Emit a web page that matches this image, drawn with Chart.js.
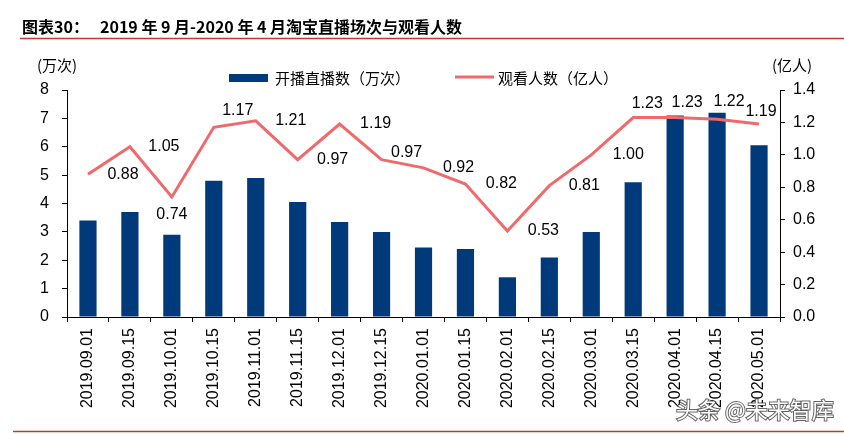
<!DOCTYPE html>
<html>
<head>
<meta charset="utf-8">
<script src="https://cdn.jsdelivr.net/npm/chart.js@4/dist/chart.umd.min.js"></script>
<style>
  html, body { margin: 0; padding: 0; background: #fff; }
  #wrap { width: 844px; height: 434px; position: relative; }
</style>
</head>
<body>
<div id="wrap"><canvas id="c" width="844" height="434"></canvas></div>
<script>
// data
const dates = ['2019.09.01','2019.09.15','2019.10.01','2019.10.15','2019.11.01','2019.11.15',
  '2019.12.01','2019.12.15','2020.01.01','2020.01.15','2020.02.01','2020.02.15',
  '2020.03.01','2020.03.15','2020.04.01','2020.04.15','2020.05.01'];
const liveCount = [3.4, 3.7, 2.9, 4.8, 4.9, 4.05, 3.35, 3.0, 2.45, 2.4, 1.4, 2.1, 3.0, 4.75, 7.1, 7.2, 6.05];
const viewers = [0.88, 1.05, 0.74, 1.17, 1.21, 0.97, 1.19, 0.97, 0.92, 0.82, 0.53, 0.81, 1.00, 1.23, 1.23, 1.22, 1.19];
const leftTicks = { min: 0, max: 8, step: 1 };
const rightTicks = { min: 0, max: 1.4, step: 0.2 };

// where each viewer label sits relative to its point (dx, dy)
const labelOffsets = [[35,0],[34,0],[0,18],[24,-17],[35,0],[35,0],[36,0],[25,-7],[35,0],[36,0],
  [36,0],[35,0],[37,0],[14,-14],[12,-15],[12,-18],[2,-12]];

const BAR = '#003A7A';
const LINE = '#F06A6B';
const FONT = '"Liberation Sans", Arial, sans-serif';
const CJK = '"Noto Sans CJK SC", sans-serif';

const decor = {
  id: 'decor',
  afterDraw(chart) {
    const ctx = chart.ctx;
    ctx.save();
    // title + rules
    ctx.fillStyle = '#000';
    ctx.textBaseline = 'middle';
    ctx.textAlign = 'left';
    ctx.font = 'bold 16px ' + CJK;
    ctx.fillText('图表30：', 22, 27);
    ctx.fillText('2019 年 9 月-2020 年 4 月淘宝直播场次与观看人数', 100, 27);
    ctx.strokeStyle = '#C0392B';
    ctx.lineWidth = 1.5;
    ctx.beginPath(); ctx.moveTo(20, 38.5); ctx.lineTo(844, 38.5); ctx.stroke();
    ctx.beginPath(); ctx.moveTo(13, 431.5); ctx.lineTo(844, 431.5); ctx.stroke();

    // axis units
    ctx.font = '15px ' + CJK;
    ctx.fillText('(万次)', 37, 65);
    ctx.fillText('(亿人)', 772, 65);

    // legend
    ctx.fillStyle = BAR;
    ctx.fillRect(229, 74, 39, 8);
    ctx.fillStyle = '#000';
    ctx.fillText('开播直播数（万次）', 275, 78);
    ctx.strokeStyle = LINE;
    ctx.lineWidth = 3;
    ctx.beginPath(); ctx.moveTo(455, 77); ctx.lineTo(494, 77); ctx.stroke();
    ctx.fillText('观看人数（亿人）', 498, 78);

    // line labels
    const meta = chart.getDatasetMeta(1);
    ctx.font = '16px ' + FONT;
    ctx.textAlign = 'center';
    meta.data.forEach((pt, i) => {
      const o = labelOffsets[i];
      ctx.fillText(viewers[i].toFixed(2), pt.x + o[0], pt.y + o[1]);
    });

    // watermark
    ctx.font = '22px ' + CJK;
    ctx.textAlign = 'left';
    ctx.lineWidth = 2;
    ctx.strokeStyle = 'rgba(60,60,60,0.8)';
    ctx.strokeText('头条 @未来智库', 676, 410);
    ctx.fillStyle = '#fff';
    ctx.fillText('头条 @未来智库', 676, 410);
    ctx.restore();
  }
};

new Chart(document.getElementById('c'), {
  data: {
    labels: dates,
    datasets: [
      {
        type: 'bar',
        label: '开播直播数（万次）',
        data: liveCount,
        backgroundColor: BAR,
        barPercentage: 0.41,
        categoryPercentage: 1,
        yAxisID: 'y',
        order: 2
      },
      {
        type: 'line',
        label: '观看人数（亿人）',
        data: viewers,
        borderColor: LINE,
        borderWidth: 3,
        pointRadius: 0,
        tension: 0,
        yAxisID: 'y1',
        order: 1
      }
    ]
  },
  options: {
    responsive: false,
    animation: false,
    layout: { padding: { top: 90, left: 0, right: 0, bottom: 0 } },
    plugins: { legend: { display: false }, tooltip: { enabled: false } },
    scales: {
      x: {
        grid: { drawOnChartArea: false, tickLength: 5, color: '#000' },
        border: { color: '#000' },
        ticks: { color: '#000', font: { family: FONT, size: 16 }, minRotation: 90, maxRotation: 90, padding: 6, autoSkip: false },
        afterFit(s) { s.height = 117; }
      },
      y: {
        position: 'left',
        min: leftTicks.min, max: leftTicks.max,
        grid: { drawOnChartArea: false, tickLength: 5, color: '#000' },
        border: { color: '#000' },
        ticks: { stepSize: leftTicks.step, color: '#000', font: { family: FONT, size: 16 }, padding: 13 },
        afterFit(s) { s.width = 67; }
      },
      y1: {
        position: 'right',
        min: rightTicks.min, max: rightTicks.max,
        grid: { drawOnChartArea: false, tickLength: 5, color: '#000' },
        border: { color: '#000' },
        ticks: { stepSize: rightTicks.step, color: '#000', font: { family: FONT, size: 16 }, padding: 8,
          callback: v => v.toFixed(1) },
        afterFit(s) { s.width = 64; }
      }
    }
  },
  plugins: [decor]
});
</script>
</body>
</html>
